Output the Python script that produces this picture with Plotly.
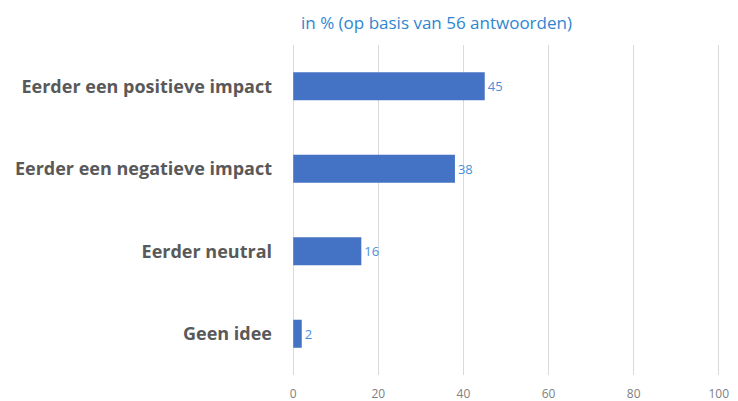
import plotly.graph_objects as go

categories = ["Eerder een positieve impact", "Eerder een negatieve impact", "Eerder neutral", "Geen idee"]
values = [45, 38, 16, 2]
tick_vals = [0, 20, 40, 60, 80, 100]
title_text = "in % (op basis van 56 antwoorden)"

fig = go.Figure(go.Bar(
    x=values,
    y=categories,
    orientation="h",
    marker=dict(color="#4472C4", line=dict(width=0)),
    text=[str(v) for v in values],
    textposition="outside",
    textfont=dict(color="#4A90D9", size=13, family="Open Sans"),
    cliponaxis=False,
    width=0.34,
))

fig.update_layout(
    width=738, height=401,
    margin=dict(l=289, r=15, t=45, b=26, autoexpand=False),
    paper_bgcolor="white", plot_bgcolor="white",
    showlegend=False,
    annotations=[dict(
        text=title_text, x=0.34, xref="paper", xanchor="center",
        y=1.0, yref="paper", yanchor="middle", yshift=23,
        showarrow=False,
        font=dict(color="#2E86D1", size=17, family="Open Sans"),
    )],
)
fig.update_xaxes(
    range=[-1, 101], tickvals=tick_vals,
    showgrid=True, gridcolor="#D9D9D9", gridwidth=1,
    zeroline=False, showline=False, automargin=False,
    tickfont=dict(color="#808080", size=12, family="Open Sans"),
    ticks="", ticklabelstandoff=10,
)
fig.update_yaxes(
    categoryorder="array", categoryarray=categories[::-1],
    showgrid=False, zeroline=False, showline=False, automargin=False,
    tickfont=dict(color="#595959", size=18, family="Open Sans", weight="bold"),
    ticks="", ticklabelstandoff=16,
)

fig.write_html("out.html")
